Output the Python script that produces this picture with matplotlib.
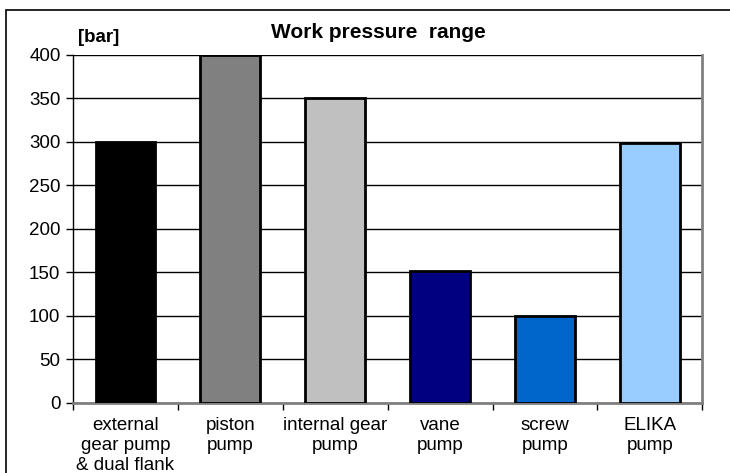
import matplotlib.pyplot as plt
import matplotlib.patches as mpatches
import numpy as np

labels = ['external\ngear pump\n& dual flank', 'piston\npump', 'internal gear\npump',
          'vane\npump', 'screw\npump', 'ELIKA\npump']
values = [300, 400, 350, 152, 100, 299]
colors = ['#000000', '#808080', '#c0c0c0', '#000080', '#0066cc', '#99ccff']

fig = plt.figure(figsize=(7.30, 4.73), dpi=100)
ax = fig.add_axes([0.1, 0.148, 0.862, 0.736])

# outer chart frame
fig.patches.append(mpatches.Rectangle((6/730, -0.1), 1.2, 1 - 10/473 + 0.1,
                                      transform=fig.transFigure, fill=False,
                                      edgecolor='black', linewidth=1.2))

x = np.arange(len(labels))
ax.bar(x, values, width=0.57, color=colors, edgecolor='black', linewidth=2, zorder=3)

ax.set_xlim(-0.5, 5.5)
ax.set_ylim(0, 400)
ax.set_yticks(np.arange(0, 401, 50))
ax.yaxis.grid(True, color='black', linewidth=1.0, zorder=0)
ax.set_xticks(np.arange(-0.5, 6, 1))
ax.set_xticklabels([])
ax.set_xticks(x, minor=True)
ax.set_xticklabels(labels, minor=True, fontsize=13.5, family='Liberation Sans',
                   linespacing=1.25)
ax.tick_params(axis='x', which='minor', length=0, pad=10)
ax.tick_params(axis='x', which='major', length=5, width=1)
ax.tick_params(axis='y', labelsize=13.5, length=5, width=1, pad=4)
for t in ax.get_yticklabels():
    t.set_family('Liberation Sans')

ax.spines['top'].set_visible(False)
ax.spines['right'].set_color('#808080')
ax.spines['right'].set_linewidth(2)
ax.spines['left'].set_linewidth(1)
ax.spines['bottom'].set_color('#808080')
ax.spines['bottom'].set_linewidth(2)

fig.text(378/730, 1 - 32/473, 'Work pressure  range', ha='center', va='center',
         fontsize=15, fontweight='bold', family='Liberation Sans')
fig.text(78/730, 1 - 38/473, '[bar]', ha='left', va='center',
         fontsize=13.5, fontweight='bold', family='Liberation Sans')

fig.savefig('out.png', dpi=100)
